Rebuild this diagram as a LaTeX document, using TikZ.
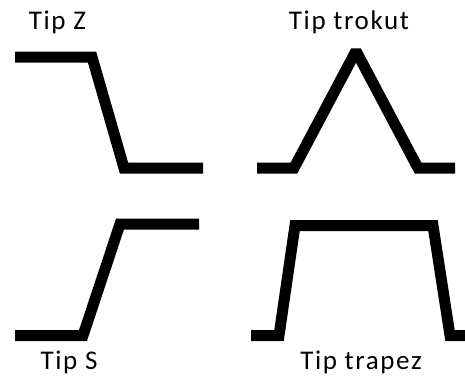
\documentclass[tikz,border=0pt]{standalone}
\usepackage{fontspec}
\setmainfont{Carlito}[LetterSpace=6]
\usetikzlibrary{positioning}
\tikzset{
  curve/.style={line width=11pt, line join=miter, miter limit=2, line cap=butt},
  tiplabel/.style={font=\fontsize{27}{30}\selectfont, inner sep=0pt, anchor=base}
}

\begin{document}
\begin{tikzpicture}[x=1pt, y=-1pt]
    \useasboundingbox (0,0) rectangle (465,376);
    % Tip Z
    \draw[curve] (15,57) -- (92,57) -- (124,168) -- (203,168);
    % Tip trokut
    \draw[curve] (257,168) -- (294,168) -- (356,51) -- (418,168) -- (455,168);
    % Tip S
    \draw[curve] (15,335.5) -- (83,335.5) -- (120,224) -- (199,224);
    % Tip trapez
    \draw[curve] (251,335.5) -- (279,335.5) -- (295,225.5) -- (433,225.5) -- (450,335.5) -- (465,335.5);
    \node[tiplabel] (lz) at (57.5,29) {Tip Z};
    \node[tiplabel] (ltr) at (349,29) {Tip trokut};
    \node[tiplabel] (ls) at (69,369.5) {Tip S};
    \node[tiplabel] (ltp) at (361,369.5) {Tip trapez};
\end{tikzpicture}
\end{document}
